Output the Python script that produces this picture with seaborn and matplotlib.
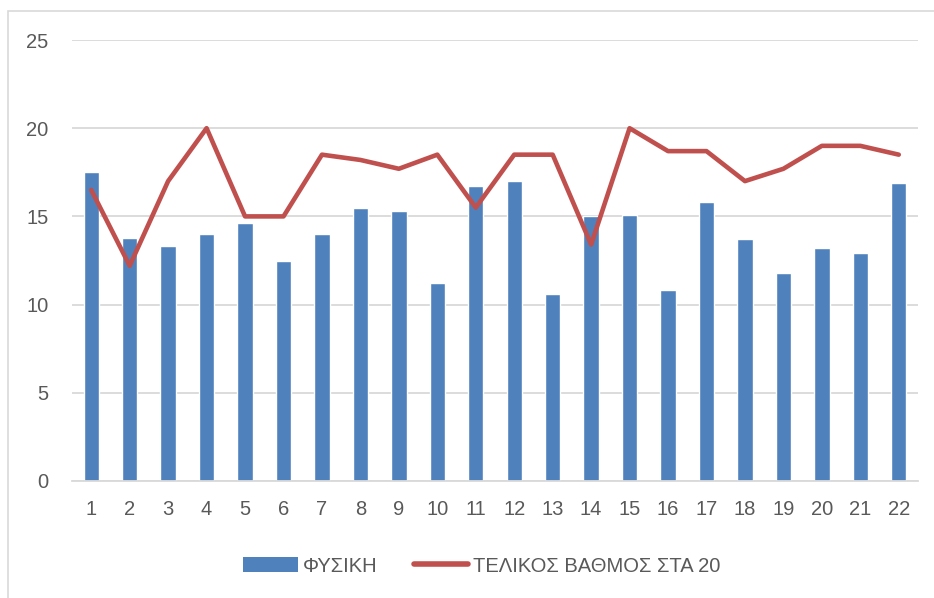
import pandas as pd
import seaborn as sns
import matplotlib.pyplot as plt
from matplotlib.patches import Patch, Rectangle
from matplotlib.lines import Line2D

# Μαθητές και βαθμοί
STUDENTS = [str(i) for i in range(1, 23)]
PHYSICS = [17.5, 13.8, 13.3, 14.0, 14.6, 12.5, 14.0, 15.5, 15.3, 11.2, 16.7,
           17.0, 10.6, 15.0, 15.1, 10.8, 15.8, 13.7, 11.8, 13.2, 12.9, 16.9]
FINAL = [16.5, 12.2, 17.0, 20.0, 15.0, 15.0, 18.5, 18.2, 17.7, 18.5, 15.5,
         18.5, 18.5, 13.4, 20.0, 18.7, 18.7, 17.0, 17.7, 19.0, 19.0, 18.5]
YTICKS = [0, 5, 10, 15, 20, 25]

BAR_LABEL = 'ΦΥΣΙΚΗ'
LINE_LABEL = 'ΤΕΛΙΚΟΣ ΒΑΘΜΟΣ ΣΤΑ 20'
BLUE = '#4f81bd'
RED = '#c0504d'
TEXT = '#595959'
GRID = '#d9d9d9'
FS = 14.5


def main() -> None:
    sns.set_style('white')
    plt.rcParams['font.family'] = ['Liberation Sans', 'DejaVu Sans']

    df = pd.DataFrame({'student': STUDENTS, 'phys': PHYSICS, 'final': FINAL})

    fig = plt.figure(figsize=(9.34, 5.98), dpi=100)
    ax = fig.add_axes([72 / 934, 1 - 481 / 598, 846 / 934, 441 / 598])

    sns.barplot(data=df, x='student', y='phys', order=STUDENTS, color=BLUE,
                saturation=1, width=0.4, ax=ax, zorder=2)
    sns.pointplot(data=df, x='student', y='final', order=STUDENTS, color=RED,
                  markers='', errorbar=None, ax=ax, linewidth=3.2, zorder=3)
    for line in ax.lines:
        line.set_solid_capstyle('round')
        line.set_solid_joinstyle('round')
        line.set_linewidth(3.3)

    ax.set_xlim(-0.5, len(STUDENTS) - 0.5)
    ax.set_ylim(0, 25)
    ax.set_yticks(YTICKS)
    ax.yaxis.grid(True, color=GRID, linewidth=1.3, zorder=0)
    ax.set_axisbelow(True)
    for s in ['top', 'right', 'left']:
        ax.spines[s].set_visible(False)
    ax.spines['bottom'].set_color(GRID)
    ax.spines['bottom'].set_linewidth(1.3)
    ax.tick_params(axis='y', length=0, pad=17, labelsize=FS, labelcolor=TEXT)
    ax.tick_params(axis='x', length=0, pad=14, labelsize=FS, labelcolor=TEXT)
    ax.set_xlabel('')
    ax.set_ylabel('')

    handles = [Patch(facecolor=BLUE, edgecolor='none', label=BAR_LABEL),
               Line2D([], [], color=RED, linewidth=4, solid_capstyle='round',
                      label=LINE_LABEL)]
    leg = fig.legend(handles=handles, loc='center', ncol=2, frameon=False,
                     bbox_to_anchor=(0.516, 1 - 566 / 598), fontsize=FS,
                     handlelength=2.7, handletextpad=0.25, columnspacing=1.8)
    for t in leg.get_texts():
        t.set_color(TEXT)

    # Περίγραμμα γραφήματος
    fig.patches.append(Rectangle((8 / 934, -0.1), 1.2, 1.1 - 11 / 598,
                                 transform=fig.transFigure, fill=False,
                                 edgecolor=GRID, linewidth=1.2))

    fig.savefig('out.png', dpi=100)
    plt.close(fig)


if __name__ == '__main__':
    main()
